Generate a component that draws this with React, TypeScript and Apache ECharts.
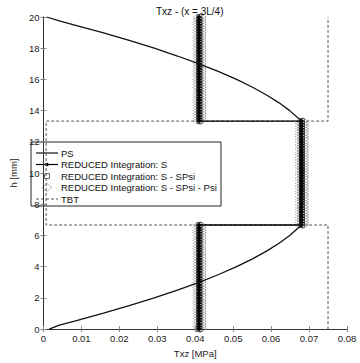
import React, { useEffect, useRef } from "react";
import * as echarts from "echarts";

const chartTitle = "Txz - (x = 3L/4)";
const xName = "Txz [MPa]";
const yName = "h [mm]";
const seriesNames = [
  "PS",
  "REDUCED Integration: S",
  "REDUCED Integration: S - SPsi",
  "REDUCED Integration: S - SPsi - Psi",
  "TBT",
];

// PS (reference solution) curve
const psH = [0, 0.25, 0.5, 1, 1.5, 2, 2.5, 3, 3.5, 4, 4.5, 5, 5.5, 6, 6.67, 8, 10, 12, 13.33, 14, 14.5, 15, 15.5, 16, 16.5, 17, 17.5, 18, 18.5, 19, 19.5, 19.75, 20];
const psTau = [0.0015, 0.0042, 0.008, 0.0156, 0.0226, 0.0292, 0.0353, 0.041, 0.0462, 0.0509, 0.0551, 0.0588, 0.0621, 0.0649, 0.068, 0.0683, 0.0684, 0.0683, 0.068, 0.0649, 0.0621, 0.0588, 0.0551, 0.0509, 0.0462, 0.041, 0.0353, 0.0292, 0.0226, 0.0156, 0.008, 0.0042, 0.0008];

// Layer bounds and mesh nodes for reduced integration results
const layerBounds = [0, 6.67, 13.33, 20];
const hNodes = [
  0, 0.17, 0.33, 0.5, 0.67, 0.83, 1, 1.17, 1.33, 1.5, 1.67, 1.83, 2, 2.17, 2.33, 2.5, 2.67, 2.83, 3, 3.17, 3.33, 3.5, 3.67, 3.83,
  4, 4.17, 4.33, 4.5, 4.67, 4.83, 5, 5.17, 5.33, 5.5, 5.67, 5.83, 6, 6.17, 6.33, 6.5, 6.67, 6.83, 7, 7.17, 7.33, 7.5, 7.67, 7.83,
  8, 8.17, 8.33, 8.5, 8.67, 8.83, 9, 9.17, 9.33, 9.5, 9.67, 9.83, 10, 10.17, 10.33, 10.5, 10.67, 10.83, 11, 11.17, 11.33, 11.5,
  11.67, 11.83, 12, 12.17, 12.33, 12.5, 12.67, 12.83, 13, 13.17, 13.33, 13.5, 13.67, 13.83, 14, 14.17, 14.33, 14.5, 14.67, 14.83,
  15, 15.17, 15.33, 15.5, 15.67, 15.83, 16, 16.17, 16.33, 16.5, 16.67, 16.83, 17, 17.17, 17.33, 17.5, 17.67, 17.83, 18, 18.17,
  18.33, 18.5, 18.67, 18.83, 19, 19.17, 19.33, 19.5, 19.67, 19.83, 20,
];
const redS = [0.041, 0.068, 0.041];
const redSPsi = [0.0411, 0.0681, 0.0411];
const redSPsiPsi = [0.0412, 0.0682, 0.0412];

// TBT
const tbtH = [0, 6.67, 6.67, 13.33, 13.33, 20];
const tbtTau = [0.075, 0.075, 0.0007, 0.0007, 0.075, 0.075];

const font = "'Liberation Sans', Arial, sans-serif";

function layered(vals: number[]) {
  const out: number[][] = [];
  for (let i = 0; i < vals.length; i++) {
    for (const h of hNodes) {
      if (h >= layerBounds[i] - 1e-9 && h <= layerBounds[i + 1] + 1e-9) out.push([vals[i], h]);
    }
  }
  return out;
}

function fmtX(v: number) {
  return String(parseFloat(v.toFixed(2)));
}

function legendGraphic() {
  const x0 = 31;
  const y0 = 142;
  const rowY = [153, 164.5, 176, 187.5, 199];
  const lx1 = 36;
  const lx2 = 58;
  const mx = 47;
  const tx = 61;
  const children: any[] = [
    { type: "rect", shape: { x: x0, y: y0, width: 190, height: 64 }, style: { fill: "#fff", stroke: "#222", lineWidth: 1 } },
  ];
  // PS
  children.push({ type: "line", shape: { x1: lx1, y1: rowY[0], x2: lx2, y2: rowY[0] }, style: { stroke: "#111", lineWidth: 1.2 } });
  // S
  children.push({ type: "line", shape: { x1: lx1, y1: rowY[1], x2: lx2, y2: rowY[1] }, style: { stroke: "#000", lineWidth: 1.2 } });
  children.push({ type: "circle", shape: { cx: mx, cy: rowY[1], r: 1.8 }, style: { fill: "#000" } });
  // S - SPsi
  children.push({ type: "rect", shape: { x: mx - 2.5, y: rowY[2] - 2.5, width: 5, height: 5 }, style: { fill: "none", stroke: "#444", lineWidth: 0.8 } });
  // S - SPsi - Psi
  children.push({
    type: "polygon",
    shape: { points: [[mx, rowY[3] - 4], [mx + 5, rowY[3]], [mx, rowY[3] + 4], [mx - 5, rowY[3]]] },
    style: { fill: "none", stroke: "#777", lineWidth: 0.9, lineDash: [1, 1] },
  });
  // TBT
  children.push({ type: "line", shape: { x1: lx1, y1: rowY[4], x2: lx2, y2: rowY[4] }, style: { stroke: "#555", lineWidth: 1, lineDash: [3, 2] } });
  seriesNames.forEach((n, i) => {
    children.push({
      type: "text",
      style: { text: n, x: tx, y: rowY[i], fill: "#111", font: `9.5px ${font}`, textVerticalAlign: "middle", textAlign: "left" },
    });
  });
  return [{ type: "group", z: 100, children }];
}

export default function App() {
  const ref = useRef<HTMLDivElement>(null);
  useEffect(() => {
    const chart = echarts.init(ref.current!, null, { renderer: "svg" });
    const axisLine = { show: true, lineStyle: { color: "#333", width: 1 } };
    const tick = { show: true, inside: true, length: 3, lineStyle: { color: "#888" } };
    const label = { fontFamily: font, fontSize: 9.5, color: "#222" };
    chart.setOption({
      animation: false,
      backgroundColor: "#fff",
      title: {
        text: chartTitle,
        left: 151,
        top: 1,
        textStyle: { fontFamily: font, fontSize: 10, fontWeight: "normal", color: "#111" },
      },
      grid: { left: 30, right: 13, top: 17, bottom: 26, containLabel: false },
      graphic: legendGraphic(),
      xAxis: [
        {
          type: "value",
          min: 0,
          max: 0.08,
          interval: 0.01,
          position: "bottom",
          name: xName,
          nameLocation: "middle",
          nameGap: 16,
          nameTextStyle: { fontFamily: font, fontSize: 9.5, color: "#222" },
          axisLine,
          axisTick: tick,
          axisLabel: { ...label, margin: 4, formatter: fmtX },
          splitLine: { show: false },
        },
        {
          type: "value",
          min: 0,
          max: 0.08,
          interval: 0.01,
          position: "top",
          axisLine,
          axisTick: tick,
          axisLabel: { show: false },
          splitLine: { show: false },
        },
      ],
      yAxis: [
        {
          type: "value",
          min: 0,
          max: 20,
          interval: 2,
          position: "left",
          name: yName,
          nameLocation: "middle",
          nameGap: 20,
          nameTextStyle: { fontFamily: font, fontSize: 9.5, color: "#222" },
          axisLine,
          axisTick: tick,
          axisLabel: { ...label, margin: 4 },
          splitLine: { show: false },
        },
        {
          type: "value",
          min: 0,
          max: 20,
          interval: 2,
          position: "right",
          axisLine,
          axisTick: tick,
          axisLabel: { show: false },
          splitLine: { show: false },
        },
      ],
      series: [
        {
          name: seriesNames[0],
          type: "line",
          data: psTau.map((t, i) => [t, psH[i]]),
          showSymbol: false,
          symbol: "none",
          lineStyle: { color: "#111", width: 1.3 },
          itemStyle: { color: "#111" },
          z: 5,
        },
        {
          name: seriesNames[1],
          type: "line",
          data: layered(redS),
          symbol: "diamond",
          symbolSize: 5,
          showSymbol: true,
          lineStyle: { color: "#000", width: 1.3 },
          itemStyle: { color: "#000" },
          z: 4,
        },
        {
          name: seriesNames[2],
          type: "line",
          data: layered(redSPsi),
          symbol: "rect",
          symbolSize: 5,
          showSymbol: true,
          lineStyle: { width: 0, color: "#333" },
          itemStyle: { color: "rgba(0,0,0,0)", borderColor: "#333", borderWidth: 0.8 },
          z: 3,
        },
        {
          name: seriesNames[3],
          type: "line",
          data: layered(redSPsiPsi),
          symbol: "diamond",
          symbolSize: [13, 7],
          showSymbol: true,
          lineStyle: { width: 0, color: "#777" },
          itemStyle: { color: "rgba(0,0,0,0)", borderColor: "#777", borderWidth: 0.9, borderType: "dotted" },
          z: 2,
        },
        {
          name: seriesNames[4],
          type: "line",
          data: tbtTau.map((t, i) => [t, tbtH[i]]),
          showSymbol: false,
          symbol: "none",
          lineStyle: { color: "#555", width: 1, type: [3, 2] },
          itemStyle: { color: "#555" },
          z: 1,
        },
      ],
    });
    return () => chart.dispose();
  }, []);
  return (
    <div
      ref={ref}
      style={{ position: "fixed", left: 0, top: 0, width: 360, height: 363, background: "#fff" }}
    />
  );
}
